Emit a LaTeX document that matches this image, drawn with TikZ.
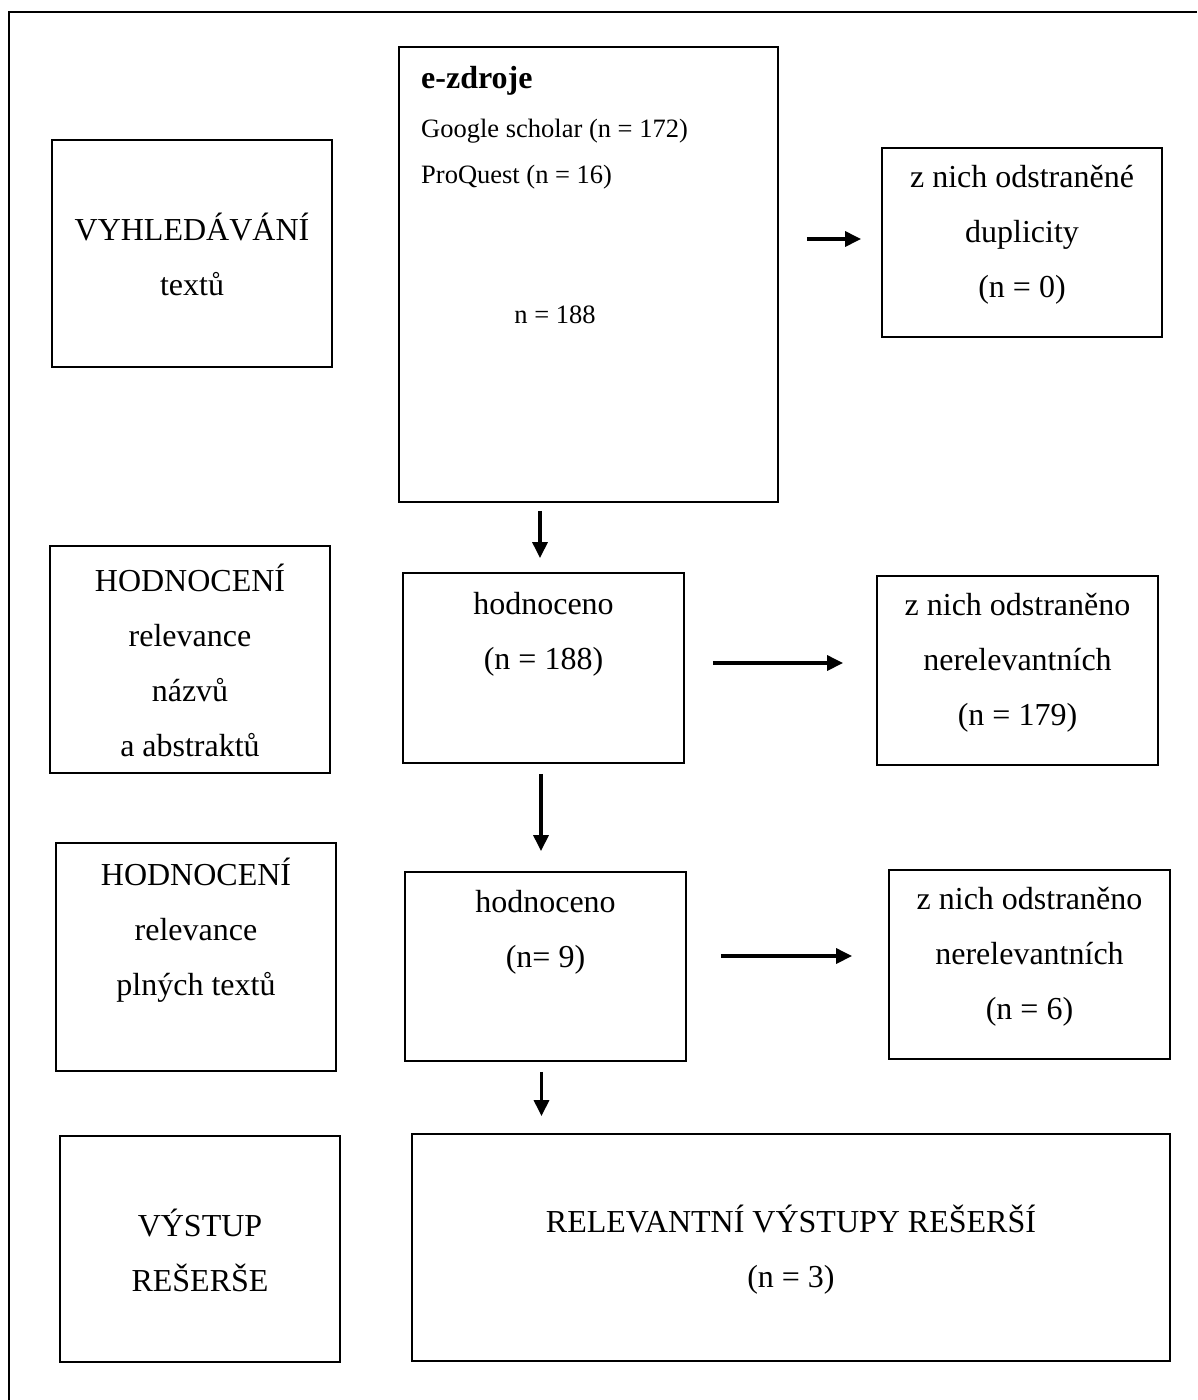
\documentclass[tikz,border=0pt]{standalone}
\usepackage{fontspec}
\setmainfont{Liberation Serif}
\usepackage{tikz}
\usetikzlibrary{arrows.meta, calc}
\def\boxW{280pt}
\def\boxH{189pt}
\newcommand{\mainsize}{\fontsize{32}{55}\selectfont}
\newcommand{\smallsize}{\fontsize{26.5}{48}\selectfont}

\begin{document}
\begin{tikzpicture}[
    x=1pt, y=-1pt,
    >={Triangle[length=16pt,width=15pt]},
    stage/.style={draw, line width=1.8pt, minimum width=\boxW, minimum height=\boxH, inner sep=0pt},
    txt/.style={align=center, font=\mainsize, inner sep=0pt},
    srctxt/.style={anchor=west, font=\smallsize, inner sep=0pt},
    flow/.style={->, line width=3.2pt}
]
\useasboundingbox (0,0) rectangle (1197,1400);
% page frame, open at the bottom and right
\draw[line width=1.8pt] (9,1400) -- (9,12) -- (1197,12);

% left column
\node[stage, minimum height=227pt] (search) at (192,253.5) {};
\node[stage, minimum height=227pt] (evalA) at (190,659.5) {};
\node[stage, minimum height=228pt] (evalB) at (196,957) {};
\node[stage, minimum height=226pt] (output) at (200,1249) {};
\node[txt] (searchT) at (192,254.5) {VYHLEDÁVÁNÍ\\textů};
\node[txt] (evalAT) at (190,660) {HODNOCENÍ\\relevance\\názvů\\a abstraktů};
\node[txt] (evalBT) at (196,930) {HODNOCENÍ\\relevance\\plných textů};
\node[txt] (outputT) at (200,1250) {VÝSTUP\\REŠERŠE};

% middle column
\node[stage, minimum width=379pt, minimum height=455pt] (src) at (588.5,274.5) {};
\node[stage, minimum width=281pt, minimum height=190pt] (titles) at (543.5,668) {};
\node[stage, minimum width=281pt] (fulltext) at (545.5,966.5) {};
\node[stage, minimum width=758pt, minimum height=227pt] (result) at (791,1247.5) {};
\node[srctxt, font=\mainsize\bfseries] (srcHead) at (421,81) {e-zdroje};
\node[srctxt] (srcG) at (421,131) {Google scholar (n = 172)};
\node[srctxt] (srcP) at (421,177) {ProQuest (n = 16)};
\node[txt, font=\smallsize] (srcN) at (555,315) {n = 188};
\node[txt] (titlesT) at (543.5,634) {hodnoceno\\(n = 188)};
\node[txt] (fulltextT) at (545.5,932.5) {hodnoceno\\(n= 9)};
\node[txt] (resultT) at (791,1250) {RELEVANTNÍ VÝSTUPY REŠERŠÍ\\(n = 3)};

% right column
\node[stage] (dupl) at (1022,242.5) {};
\node[stage, minimum width=281pt] (dropA) at (1017.5,670.5) {};
\node[stage, minimum width=281pt] (dropB) at (1029.5,964.5) {};
\node[txt] (duplT) at (1022,235) {z nich odstraněné\\duplicity\\(n = 0)};
\node[txt] (dropAT) at (1017.5,663) {z nich odstraněno\\nerelevantních\\(n = 179)};
\node[txt] (dropBT) at (1029.5,957) {z nich odstraněno\\nerelevantních\\(n = 6)};

% arrows
\draw[flow, shorten <=28pt, shorten >=20pt] ($(src.east |- dupl.west)+(0,-3.5)$) -- ($(dupl.west)+(0,-3.5)$);
\draw[flow, shorten <=28pt, shorten >=33pt] ($(titles.east |- dropA.west)+(0,-7.5)$) -- ($(dropA.west)+(0,-7.5)$);
\draw[flow, shorten <=34pt, shorten >=36pt] ($(fulltext.east |- dropB.west)+(0,-8.5)$) -- ($(dropB.west)+(0,-8.5)$);
\draw[flow, shorten <=8pt, shorten >=14pt] ($(titles.north |- src.south)+(-3.5,0)$) -- ($(titles.north)+(-3.5,0)$);
\draw[flow, shorten <=10pt, shorten >=20pt] ($(titles.south)+(-2.5,0)$) -- ($(titles.south |- fulltext.north)+(-2.5,0)$);
\draw[flow, shorten <=10pt, shorten >=17pt] ($(fulltext.south)+(-4,0)$) -- ($(fulltext.south |- result.north)+(-4,0)$);
\end{tikzpicture}
\end{document}
